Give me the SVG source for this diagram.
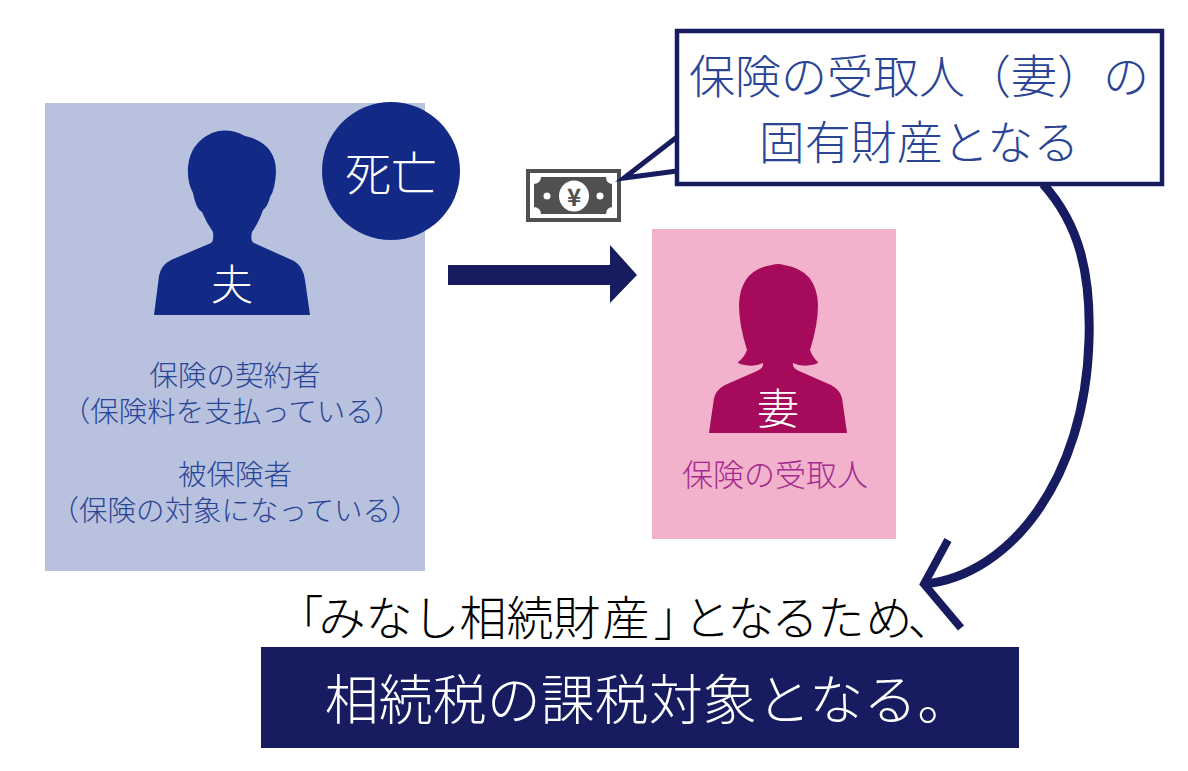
<svg xmlns="http://www.w3.org/2000/svg" width="1188" height="771" viewBox="0 0 1188 771">
<style>
text{font-family:"Noto Sans CJK JP","Noto Sans CJK SC",sans-serif;font-weight:300;text-anchor:middle;dominant-baseline:central}
.blue{fill:#2a4596;font-size:28.500px}
.white{fill:#fff}
.line{fill:none;stroke:#171c60;stroke-width:8}
</style>
<rect width="1188" height="771" fill="#fff"/>
<g id="husband">
<rect x="45" y="103" width="380" height="468" fill="#b8c1dd"/>
<path d="M154,315 L159,276 Q161,265 171,260 L211,243 Q214,241 213,232 Q206,222 202,212 Q196,209 193,193 Q187,182 188,167 Q190,143 212,133 Q228,127 245,136 Q276,143 276,172 Q275,190 270,197 Q268,206 263,210 Q258,224 252,232 Q250,241 254,243 L294,261 Q303,266 305,280 L310,315 Z" fill="#122a85"/>
<text class="white" x="232" y="281" font-size="42">夫</text>
<text class="blue"><tspan x="235" y="373">保険の契約者</tspan><tspan x="232" y="409">（保険料を支払っている）</tspan><tspan x="235" y="472">被保険者</tspan><tspan x="235" y="508">（保険の対象になっている）</tspan></text>
</g>
<g id="death">
<circle cx="391" cy="171" r="69" fill="#122a85"/>
<text class="white" x="391" y="170" font-size="46">死亡</text>
</g>
<g id="wife">
<rect x="652" y="229" width="244" height="310" fill="#f2b2cb"/>
<path d="M709,433 L714,398 Q716,390 725,385 L757,371 Q764,368 763,363 Q755,367 745,365 Q738,364 738,362 Q744,358 747,350 Q739,325 739,305 Q740,270 772,265 Q778,263 784,265 Q817,270 818,305 Q818,325 810,350 Q813,358 818,362 Q818,364 811,365 Q801,367 793,363 Q792,368 799,371 L831,385 Q840,390 842,398 L847,433 Z" fill="#a50b5a"/>
<text class="white" x="778" y="405" font-size="42">妻</text>
<text x="775" y="472" font-size="31" fill="#a42a8e">保険の受取人</text>
</g>
<g id="money">
<rect x="526" y="169" width="95" height="53" fill="#505050"/>
<rect x="530" y="173" width="87" height="45" fill="#fff"/>
<path d="M541,177 H606 Q606,183 612,184 V207 Q606,208 606,214 H541 Q541,208 534,207 V184 Q541,183 541,177 Z" fill="#505050"/>
<ellipse cx="574" cy="196" rx="15" ry="15.500" fill="#fff"/>
<circle cx="547" cy="196" r="3.500" fill="#fff"/>
<circle cx="600" cy="196" r="3.500" fill="#fff"/>
<text x="574" y="195" font-size="24" fill="#505050" style="font-weight:700">¥</text>
</g>
<g id="connectors">
<path d="M448,265 H610 V245 L637,275 L610,303 V285 H448 Z" fill="#171c60"/>
<path class="line" style="stroke-width:9" d="M1043,184 C1080,225 1091,275 1089,340 C1085,480 1010,575 925,584"/>
<path class="line" d="M948,540 L924,584 L961,628"/>
</g>
<g id="callout">
<path d="M677,137 L624,178 L677,171" fill="#fff" stroke="#171c60" stroke-width="5"/>
<rect x="677" y="31" width="485" height="153" fill="#fff" stroke="#171c60" stroke-width="4.500"/>
<text font-size="46" fill="#2a4596"><tspan x="919" y="73">保険の受取人（妻）の</tspan><tspan x="919" y="139">固有財産となる</tspan></text>
</g>
<g id="note">
<text x="300 342 389 436 483 530 577 626 677 707 751 795 841 889 931" y="614" font-size="47" fill="#000">「みなし相続財産」となるため、</text>
</g>
<g id="result">
<rect x="261" y="647" width="758" height="101" fill="#171c60"/>
<text class="white" x="648" y="696" font-size="54">相続税の課税対象となる。</text>
</g>
</svg>
